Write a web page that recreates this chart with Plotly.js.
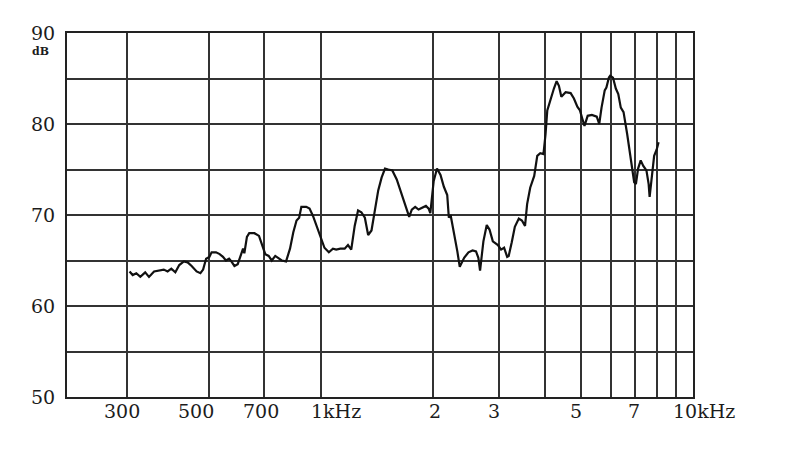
<!DOCTYPE html>
<html>
<head>
<meta charset="utf-8">
<script src="https://cdn.plot.ly/plotly-3.0.1.min.js"></script>
<style>
  html, body { margin: 0; padding: 0; background: #ffffff; }
  #chart { width: 800px; height: 454px; }
</style>
</head>
<body>
<div id="chart"></div>
<script>
// Frequency response (Hz, dB)
const freqHz = [
  305, 311, 318, 326, 336, 344, 355, 368, 377, 386, 395, 405, 415, 427, 437, 448, 462, 473, 481, 490,
  500, 507, 521, 533, 544, 554, 565, 573, 584, 596, 607, 616, 621, 631, 640, 661, 680,
  693, 707, 722, 736, 752, 767, 783, 804, 824, 841, 858, 872, 884, 911, 930, 950, 979,
  999, 1020, 1048, 1075, 1097, 1125, 1156, 1180, 1204, 1230, 1256, 1282, 1310, 1337, 1365, 1394, 1423, 1453,
  1484, 1515, 1553, 1596, 1630, 1681, 1724, 1752, 1789, 1827, 1873, 1912, 1945, 1965,
  2006, 2048, 2093, 2137, 2182, 2204, 2228, 2275, 2323, 2358, 2423, 2489, 2553, 2608, 2646, 2674, 2730, 2787, 2835, 2894, 2987,
  3046, 3103, 3163, 3193, 3254, 3317, 3400, 3465, 3533, 3579, 3648, 3740, 3811, 3883, 3960,
  4012, 4055, 4139, 4225, 4297, 4358, 4424, 4543, 4686, 4783, 4885, 4964,
  5036, 5106, 5208, 5346, 5509, 5594, 5675, 5788, 5848, 5940,
  5988, 6092, 6200, 6295, 6394, 6504, 6651, 6797, 6946,
  7021, 7117, 7233, 7349, 7494, 7598, 7644, 7752, 7861, 7987, 8080
];
const levelDb = [
  63.8, 63.4, 63.6, 63.2, 63.7, 63.2, 63.8, 63.9, 64.0, 63.8, 64.1, 63.7, 64.5, 64.9, 64.8, 64.4, 63.8, 63.6, 64.0, 65.2,
  65.4, 65.9, 65.9, 65.7, 65.4, 65.0, 65.2, 64.9, 64.4, 64.6, 65.6, 66.3, 65.8, 67.6, 68.0, 68.0, 67.7,
  66.6, 65.7, 65.5, 65.0, 65.5, 65.3, 65.0, 64.9, 66.3, 68.1, 69.4, 69.7, 70.9, 70.9, 70.7, 69.9, 68.5,
  67.4, 66.4, 65.9, 66.3, 66.2, 66.3, 66.3, 66.7, 66.2, 68.8, 70.5, 70.3, 69.7, 67.8, 68.3, 70.6, 72.7, 74.1,
  75.1, 75.0, 74.9, 73.9, 72.8, 71.3, 69.8, 70.6, 70.9, 70.6, 70.8, 71.0, 70.7, 70.2,
  73.7, 75.1, 74.4, 73.1, 72.2, 69.7, 70.0, 68.2, 66.0, 64.3, 65.3, 65.9, 66.1, 66.0, 65.3, 63.9, 67.1, 68.9, 68.4, 67.1, 66.7,
  66.2, 66.4, 65.4, 65.5, 67.0, 68.7, 69.6, 69.4, 68.8, 71.2, 73.0, 74.3, 76.5, 76.8, 76.7,
  78.9, 81.5, 82.8, 83.9, 84.7, 84.2, 83.0, 83.5, 83.4, 82.8, 81.9, 81.5,
  80.6, 79.8, 80.9, 81.0, 80.8, 80.0, 81.8, 83.7, 84.0, 85.1,
  85.3, 85.1, 83.9, 83.3, 81.8, 81.3, 78.9, 76.0, 73.6,
  73.4, 75.1, 76.0, 75.4, 74.9, 73.4, 72.0, 74.5, 76.5, 77.2, 78.0
];

// Axis ticks / grid
const gridFreqs = [300, 500, 700, 1000, 2000, 3000, 4000, 5000, 6000, 7000, 8000, 9000];
const xLabelFreqs = [300, 500, 700, 1000, 2000, 3000, 5000, 7000, 10000];
const xLabelText = ['300', '500', '700', '1kHz', '2', '3', '5', '7', '10kHz'];
const yTickVals = [50, 55, 60, 65, 70, 75, 80, 85, 90];
const yTickText = ['50', '', '60', '', '70', '', '80', '', '90'];
const yUnit = 'dB';

// Label nudges (layout only)
const xLabelShift = [-5, -13, -3, 15, 2, -5, -5, -1, 11];

const serif = '"DejaVu Serif", "Liberation Serif", serif';
const ink = '#1c1c1c';

const annotations = xLabelFreqs.map((f, i) => ({
  x: Math.log10(f), xref: 'x', y: 0, yref: 'paper',
  text: xLabelText[i], showarrow: false,
  xanchor: 'center', yanchor: 'middle',
  xshift: xLabelShift[i], yshift: -14,
  font: { family: serif, size: 19, color: ink }
}));
annotations.push({
  x: 0, xref: 'paper', y: 1, yref: 'paper',
  text: '<b>' + yUnit + '</b>', showarrow: false,
  xanchor: 'center', yanchor: 'middle',
  xshift: -27, yshift: -18,
  font: { family: serif, size: 11, color: ink }
});

const trace = {
  x: freqHz, y: levelDb, type: 'scatter', mode: 'lines',
  line: { color: '#111111', width: 2.2 },
  hoverinfo: 'skip'
};

const layout = {
  width: 800, height: 454,
  margin: { l: 67, r: 107, t: 33, b: 57 },
  paper_bgcolor: '#ffffff', plot_bgcolor: '#ffffff',
  showlegend: false,
  xaxis: {
    type: 'log', range: [2.316, 4],
    tickmode: 'array', tickvals: gridFreqs, showticklabels: false,
    showgrid: true, gridcolor: '#333333', gridwidth: 2,
    showline: true, linecolor: '#222222', linewidth: 2, mirror: true,
    zeroline: false, ticks: ''
  },
  yaxis: {
    range: [50, 90],
    tickmode: 'array', tickvals: yTickVals, ticktext: yTickText,
    showgrid: true, gridcolor: '#333333', gridwidth: 2,
    showline: true, linecolor: '#222222', linewidth: 2, mirror: true,
    zeroline: false, ticks: '', ticklabelstandoff: 6,
    tickfont: { family: serif, size: 19, color: ink }
  },
  annotations: annotations
};

Plotly.newPlot('chart', [trace], layout, { staticPlot: true, displayModeBar: false });
</script>
</body>
</html>
